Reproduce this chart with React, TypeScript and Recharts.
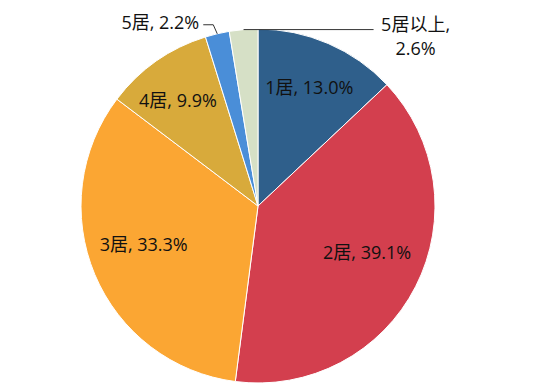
import { PieChart, Pie, Cell } from 'recharts'

const categories = ['1居', '2居', '3居', '4居', '5居', '5居以上']
const shares = [13.0, 39.1, 33.3, 9.9, 2.2, 2.6]
const colors = ['#2F5F8B', '#D33F4E', '#FBA633', '#D8AA3B', '#4A8ED8', '#D6E0C6']

const data = categories.map((name, i) => ({ name, value: shares[i] }))

// inside labels: radius as fraction of outer radius, and a small angle nudge (deg)
const insideR = [0.73, 0.67, 0.68, 0.75]
const insideNudge = [0, 4, -4.5, 2]
const RAD = Math.PI / 180
const FONT = "'Open Sans', 'Noto Sans CJK SC', sans-serif"
const FS = 18

function renderLabel(props: any) {
  const { cx, cy, midAngle, outerRadius, index, name, value } = props
  const text = `${name}, ${Number(value).toFixed(1)}%`
  if (index < 4) {
    const a = (midAngle + insideNudge[index]) * RAD
    const r = outerRadius * insideR[index]
    return (
      <text x={cx + r * Math.cos(a)} y={cy - r * Math.sin(a)} textAnchor="middle" dominantBaseline="central"
        fontSize={FS} fill="#111" fontFamily={FONT}>
        {text}
      </text>
    )
  }
  const ex = cx + outerRadius * Math.cos(midAngle * RAD)
  const ey = cy - outerRadius * Math.sin(midAngle * RAD)
  if (index === 4) {
    return (
      <g>
        <polyline points={`${ex},${ey} ${ex - 4},${ey - 9} ${ex - 14},${ey - 9}`} fill="none" stroke="#333" strokeWidth={1} />
        <text x={ex - 18} y={ey - 12} textAnchor="end" dominantBaseline="central" fontSize={FS} fill="#111" fontFamily={FONT}>
          {text}
        </text>
      </g>
    )
  }
  return (
    <g>
      <polyline points={`${ex},${ey} ${ex + 130},${ey}`} fill="none" stroke="#333" strokeWidth={1} />
      <text x={ex + 172} y={ey - 6} textAnchor="middle" dominantBaseline="central" fontSize={FS} fill="#111" fontFamily={FONT}>
        {`${name},`}
      </text>
      <text x={ex + 172} y={ey + 18} textAnchor="middle" dominantBaseline="central" fontSize={FS} fill="#111" fontFamily={FONT}>
        {`${Number(value).toFixed(1)}%`}
      </text>
    </g>
  )
}

export default function App() {
  return (
    <div style={{ position: 'absolute', left: 0, top: 0, background: '#fff' }}>
      <PieChart width={537} height={392} margin={{ top: 0, right: 0, bottom: 0, left: 0 }}>
        <Pie
          data={data}
          dataKey="value"
          nameKey="name"
          cx={258}
          cy={206}
          outerRadius={177}
          startAngle={90}
          endAngle={-270}
          stroke="#ffffff"
          strokeWidth={1}
          label={renderLabel}
          labelLine={false}
          isAnimationActive={false}
        >
          {data.map((d, i) => (
            <Cell key={d.name} fill={colors[i]} />
          ))}
        </Pie>
      </PieChart>
    </div>
  )
}
